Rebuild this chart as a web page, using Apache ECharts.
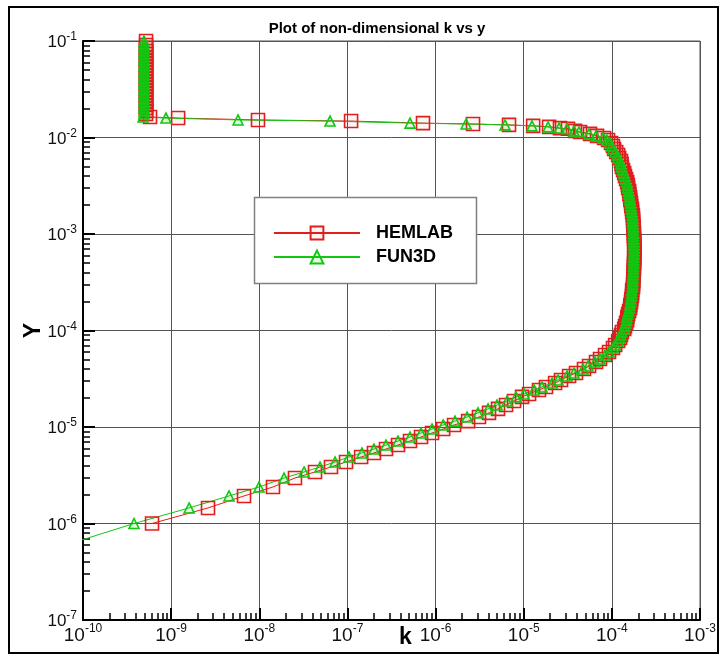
<!DOCTYPE html>
<html>
<head>
<meta charset="utf-8">
<script src="https://cdn.jsdelivr.net/npm/echarts@6/dist/echarts.min.js"></script>
<style>
  html, body { margin: 0; padding: 0; background: #fff; }
  #chart { width: 726px; height: 655px; }
</style>
</head>
<body>
<div id="chart"></div>
<script>
// Wall-normal stations (same mesh for both solvers), bottom to top
const yNodes = [
  1.00e-6, 1.45e-6, 1.93e-6, 2.39e-6, 2.96e-6, 3.42e-6, 3.85e-6, 4.34e-6, 4.89e-6, 5.38e-6,
  5.91e-6, 6.51e-6, 7.16e-6, 7.88e-6, 8.66e-6, 9.53e-6, 1.05e-5, 1.15e-5, 1.27e-5, 1.40e-5,
  1.54e-5, 1.69e-5, 1.86e-5, 2.05e-5, 2.20e-5, 2.42e-5, 2.60e-5, 2.86e-5, 3.07e-5, 3.38e-5,
  3.63e-5, 3.99e-5, 4.29e-5, 4.72e-5, 5.07e-5, 5.57e-5, 5.99e-5, 6.59e-5, 7.07e-5, 7.78e-5,
  8.36e-5, 8.98e-5, 9.65e-5, 1.04e-4, 1.11e-4, 1.20e-4, 1.28e-4, 1.38e-4, 1.48e-4, 1.59e-4,
  1.71e-4, 1.84e-4, 1.97e-4, 2.12e-4, 2.28e-4, 2.45e-4, 2.63e-4, 2.82e-4, 3.03e-4, 3.26e-4,
  3.50e-4, 3.76e-4, 4.04e-4, 4.34e-4, 4.66e-4, 5.01e-4, 5.38e-4, 5.78e-4, 6.20e-4, 6.67e-4,
  7.16e-4, 7.69e-4, 8.26e-4, 8.88e-4, 9.53e-4, 1.02e-3, 1.10e-3, 1.18e-3, 1.27e-3, 1.36e-3,
  1.46e-3, 1.57e-3, 1.69e-3, 1.82e-3, 1.95e-3, 2.10e-3, 2.25e-3, 2.42e-3, 2.60e-3, 2.79e-3,
  3.00e-3, 3.22e-3, 3.46e-3, 3.72e-3, 3.99e-3, 4.29e-3, 4.61e-3, 4.95e-3, 5.31e-3, 5.71e-3,
  6.13e-3, 6.59e-3, 7.07e-3, 7.60e-3, 8.16e-3, 8.77e-3, 9.42e-3, 9.88e-3, 1.04e-2, 1.09e-2,
  1.14e-2, 1.17e-2, 1.23e-2, 1.25e-2, 1.29e-2, 1.32e-2, 1.35e-2, 1.38e-2, 1.41e-2, 1.48e-2,
  1.52e-2, 1.59e-2, 1.63e-2, 1.75e-2, 1.88e-2, 2.02e-2, 2.17e-2, 2.33e-2, 2.51e-2, 2.69e-2,
  2.89e-2, 3.11e-2, 3.34e-2, 3.58e-2, 3.85e-2, 4.14e-2, 4.44e-2, 4.77e-2, 5.13e-2, 5.51e-2,
  5.92e-2, 6.36e-2, 6.83e-2, 7.33e-2, 7.88e-2, 8.46e-2, 9.09e-2, 1.00e-1
];

// Non-dimensional k, HEMLAB solution
const kHemlab = [
  6.07e-10, 2.62e-9, 6.71e-9, 1.43e-8, 2.54e-8, 4.29e-8, 6.51e-8, 9.64e-8, 1.43e-7, 2.00e-7,
  2.74e-7, 3.75e-7, 5.13e-7, 6.84e-7, 9.12e-7, 1.22e-6, 1.62e-6, 2.34e-6, 3.11e-6, 4.04e-6,
  5.11e-6, 6.30e-6, 7.77e-6, 9.57e-6, 1.15e-5, 1.49e-5, 1.79e-5, 2.27e-5, 2.65e-5, 3.27e-5,
  3.92e-5, 4.83e-5, 5.51e-5, 6.61e-5, 7.34e-5, 8.37e-5, 9.29e-5, 1.03e-4, 1.09e-4, 1.18e-4,
  1.24e-4, 1.27e-4, 1.30e-4, 1.38e-4, 1.41e-4, 1.45e-4, 1.49e-4, 1.50e-4, 1.53e-4, 1.57e-4,
  1.61e-4, 1.62e-4, 1.65e-4, 1.66e-4, 1.69e-4, 1.70e-4, 1.70e-4, 1.74e-4, 1.74e-4, 1.75e-4,
  1.75e-4, 1.76e-4, 1.77e-4, 1.78e-4, 1.78e-4, 1.79e-4, 1.79e-4, 1.79e-4, 1.80e-4, 1.80e-4,
  1.80e-4, 1.79e-4, 1.79e-4, 1.79e-4, 1.78e-4, 1.78e-4, 1.77e-4, 1.77e-4, 1.75e-4, 1.74e-4,
  1.74e-4, 1.73e-4, 1.70e-4, 1.69e-4, 1.66e-4, 1.65e-4, 1.62e-4, 1.61e-4, 1.58e-4, 1.57e-4,
  1.53e-4, 1.52e-4, 1.49e-4, 1.45e-4, 1.41e-4, 1.38e-4, 1.34e-4, 1.30e-4, 1.29e-4, 1.27e-4,
  1.21e-4, 1.18e-4, 1.12e-4, 1.06e-4, 1.03e-4, 9.79e-5, 9.05e-5, 8.15e-5, 6.79e-5, 5.65e-5,
  4.36e-5, 3.82e-5, 3.18e-5, 2.58e-5, 1.94e-5, 1.28e-5, 6.81e-6, 2.66e-6, 7.20e-7, 1.10e-7,
  9.67e-9, 1.20e-9, 5.76e-10, 5.19e-10, 5.21e-10, 5.18e-10, 5.20e-10, 5.19e-10, 5.22e-10, 5.18e-10,
  5.20e-10, 5.19e-10, 5.21e-10, 5.19e-10, 5.20e-10, 5.18e-10, 5.21e-10, 5.19e-10, 5.20e-10, 5.19e-10,
  5.22e-10, 5.18e-10, 5.20e-10, 5.19e-10, 5.21e-10, 5.19e-10, 5.20e-10, 5.19e-10
];

// Non-dimensional k, FUN3D solution
const kFun3d = [
  3.79e-10, 1.60e-9, 4.53e-9, 9.93e-9, 1.91e-8, 3.22e-8, 4.89e-8, 7.23e-8, 1.04e-7, 1.46e-7,
  2.00e-7, 2.74e-7, 3.75e-7, 5.13e-7, 6.84e-7, 9.12e-7, 1.22e-6, 1.66e-6, 2.28e-6, 3.03e-6,
  3.94e-6, 4.98e-6, 6.47e-6, 8.18e-6, 1.01e-5, 1.31e-5, 1.61e-5, 2.10e-5, 2.45e-5, 3.10e-5,
  3.72e-5, 4.71e-5, 5.37e-5, 6.45e-5, 7.34e-5, 8.37e-5, 9.29e-5, 1.03e-4, 1.09e-4, 1.18e-4,
  1.23e-4, 1.26e-4, 1.29e-4, 1.36e-4, 1.40e-4, 1.44e-4, 1.47e-4, 1.48e-4, 1.52e-4, 1.55e-4,
  1.59e-4, 1.60e-4, 1.63e-4, 1.64e-4, 1.67e-4, 1.68e-4, 1.68e-4, 1.72e-4, 1.72e-4, 1.73e-4,
  1.73e-4, 1.74e-4, 1.75e-4, 1.76e-4, 1.76e-4, 1.77e-4, 1.77e-4, 1.77e-4, 1.78e-4, 1.78e-4,
  1.78e-4, 1.77e-4, 1.77e-4, 1.77e-4, 1.76e-4, 1.76e-4, 1.75e-4, 1.75e-4, 1.73e-4, 1.72e-4,
  1.72e-4, 1.71e-4, 1.68e-4, 1.67e-4, 1.64e-4, 1.63e-4, 1.60e-4, 1.59e-4, 1.56e-4, 1.55e-4,
  1.51e-4, 1.50e-4, 1.47e-4, 1.43e-4, 1.39e-4, 1.36e-4, 1.32e-4, 1.28e-4, 1.27e-4, 1.24e-4,
  1.18e-4, 1.15e-4, 1.09e-4, 1.03e-4, 9.95e-5, 9.48e-5, 8.76e-5, 7.94e-5, 6.61e-5, 5.51e-5,
  4.24e-5, 3.72e-5, 3.10e-5, 2.52e-5, 1.89e-5, 1.24e-5, 6.14e-6, 2.22e-6, 5.13e-7, 6.35e-8,
  5.74e-9, 8.74e-10, 4.80e-10, 4.92e-10, 4.94e-10, 4.91e-10, 4.93e-10, 4.92e-10, 4.95e-10, 4.91e-10,
  4.93e-10, 4.92e-10, 4.94e-10, 4.92e-10, 4.93e-10, 4.91e-10, 4.94e-10, 4.92e-10, 4.93e-10, 4.92e-10,
  4.95e-10, 4.91e-10, 4.93e-10, 4.92e-10, 4.94e-10, 4.92e-10, 4.93e-10, 4.92e-10
];

// FUN3D has one extra station below the first HEMLAB point
const fun3dWallY = [5.0e-7];
const fun3dWallK = [3.4e-11];

const seriesNames = ['HEMLAB', 'FUN3D'];
const titleText = 'Plot of non-dimensional k vs y';

const FONT = '"Liberation Sans", Arial, Helvetica, sans-serif';
const RED = '#e01e1e';
const GREEN = '#10c810';

const hemlabData = yNodes.map((y, i) => [kHemlab[i], y]);
const fun3dData = fun3dWallY.map((y, i) => [fun3dWallK[i], y])
  .concat(yNodes.map((y, i) => [kFun3d[i], y]));

// "10" with the decade exponent as a superscript
function decadeLabel(v) {
  const e = Math.round(Math.log10(v));
  return '{b|10}{s|' + e + '}';
}

function richFor(size) {
  return {
    b: { fontFamily: FONT, fontSize: size, lineHeight: size + 3, color: '#111', verticalAlign: 'bottom' },
    s: { fontFamily: FONT, fontSize: 12, lineHeight: 12, color: '#111', verticalAlign: 'top' }
  };
}

const chart = echarts.init(document.getElementById('chart'));

chart.setOption({
  animation: false,
  backgroundColor: '#fff',
  grid: {
    left: 83, top: 41, width: 617, height: 579,
    show: true, borderColor: '#555', borderWidth: 1,
    outerBoundsMode: 'none'
  },
  xAxis: {
    type: 'log', logBase: 10, min: 1e-10, max: 1e-3, splitNumber: 7,
    axisLine: { show: true, onZero: false, lineStyle: { color: '#000', width: 2 } },
    axisTick: { show: true, inside: true, length: 12, lineStyle: { color: '#000', width: 2 } },
    minorTick: { show: true, splitNumber: 9, length: 7, lineStyle: { color: '#000', width: 1.5 } },
    splitLine: { show: true, lineStyle: { color: '#555', width: 1 } },
    minorSplitLine: { show: false },
    axisLabel: {
      formatter: decadeLabel, margin: 3, showMinLabel: true, showMaxLabel: true,
      rich: richFor(19)
    },
    name: 'k', nameLocation: 'middle', nameGap: 6, nameMoveOverlap: false,
    nameTextStyle: { fontFamily: FONT, fontSize: 23, fontWeight: 'bold', color: '#000', padding: [0, 0, 0, 28] }
  },
  yAxis: {
    type: 'log', logBase: 10, min: 1e-7, max: 1e-1, splitNumber: 6,
    axisLine: { show: true, onZero: false, lineStyle: { color: '#000', width: 2 } },
    axisTick: { show: true, inside: true, length: 12, lineStyle: { color: '#000', width: 2 } },
    minorTick: { show: true, splitNumber: 9, length: 7, lineStyle: { color: '#000', width: 1.5 } },
    splitLine: { show: true, lineStyle: { color: '#555', width: 1 } },
    minorSplitLine: { show: false },
    axisLabel: {
      formatter: decadeLabel, margin: 6, showMinLabel: true, showMaxLabel: true,
      rich: richFor(17)
    },
    name: 'Y', nameLocation: 'middle', nameGap: 38, nameRotate: 90, nameMoveOverlap: false,
    nameTextStyle: { fontFamily: FONT, fontSize: 23, fontWeight: 'bold', color: '#000' }
  },
  legend: {
    orient: 'vertical', left: 273, top: 223, padding: 0, itemGap: 4,
    itemWidth: 86, itemHeight: 16, z: 20,
    data: seriesNames,
    textStyle: { fontFamily: FONT, fontSize: 18, fontWeight: 'bold', color: '#000', lineHeight: 20, padding: [0, 0, 0, 11] }
  },
  graphic: {
    elements: [
      {
        type: 'rect', z: 10, silent: true,
        shape: { x: 254.5, y: 197.5, width: 222, height: 86 },
        style: { fill: '#fff', stroke: '#808080', lineWidth: 1.5 }
      },
      {
        type: 'rect', z: 10, silent: true,
        shape: { x: 9, y: 7, width: 709, height: 646 },
        style: { fill: 'none', stroke: '#000', lineWidth: 2 }
      },
      {
        type: 'text', z: 10, silent: true,
        style: {
          x: 377, y: 29, text: titleText, align: 'center', verticalAlign: 'middle',
          font: 'bold 15px ' + FONT, fill: '#000'
        }
      }
    ]
  },
  series: [
    {
      name: seriesNames[0], type: 'line', data: hemlabData,
      symbol: 'rect', symbolSize: 13, showAllSymbol: true, clip: true,
      itemStyle: { color: 'rgba(224,30,30,0.05)', borderColor: RED, borderWidth: 1.6 },
      lineStyle: { color: RED, width: 1 },
      emphasis: { disabled: true }
    },
    {
      name: seriesNames[1], type: 'line', data: fun3dData,
      symbol: 'triangle', symbolSize: 10, showAllSymbol: true, clip: true,
      itemStyle: { color: 'rgba(16,200,16,0.12)', borderColor: GREEN, borderWidth: 1.6 },
      lineStyle: { color: GREEN, width: 1 },
      emphasis: { disabled: true }
    }
  ]
});
</script>
</body>
</html>
